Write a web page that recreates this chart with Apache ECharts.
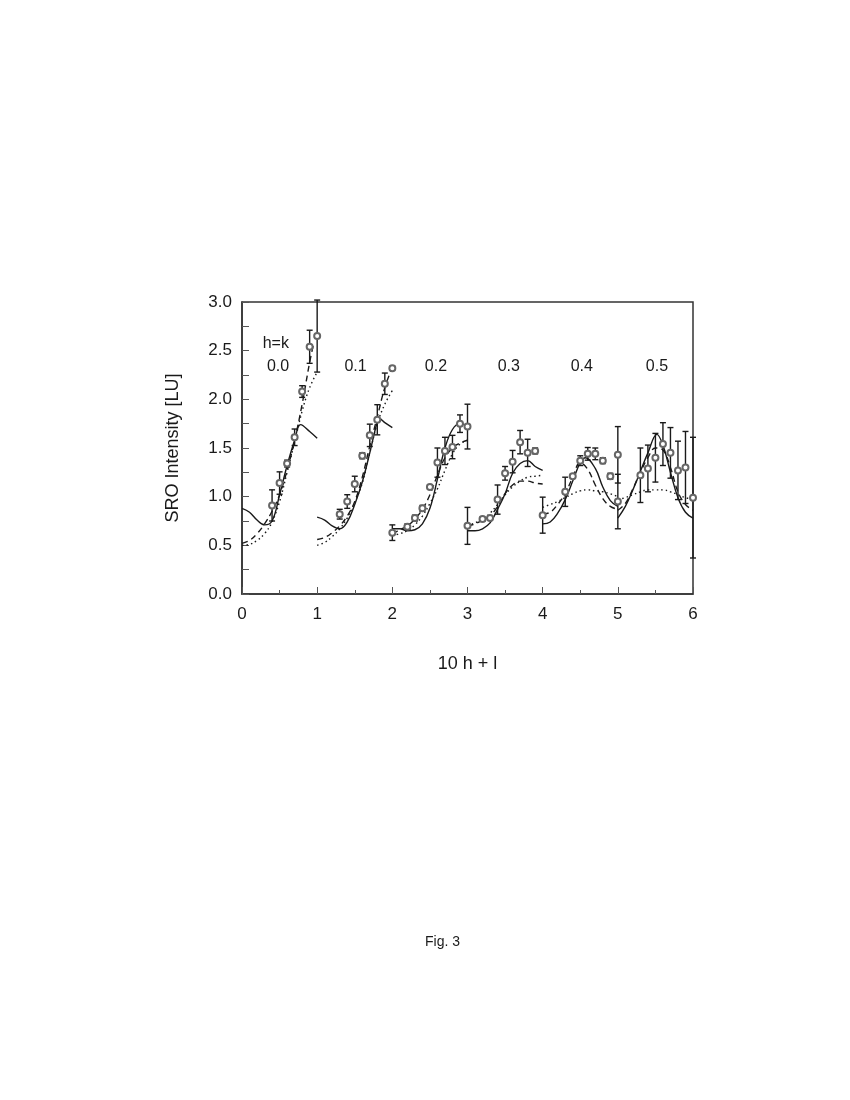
<!DOCTYPE html>
<html>
<head>
<meta charset="utf-8">
<title>Fig. 3</title>
<script src="https://cdn.jsdelivr.net/npm/echarts@6/dist/echarts.min.js"></script>
<style>
  html, body { margin: 0; padding: 0; background: #fff; }
  #chart { width: 850px; height: 1100px; }
</style>
</head>
<body>
<div id="chart"></div>
<script>
// measured points (x = 10 h + l), with error bar half-widths
var obsX = [0.4, 0.5, 0.6, 0.7, 0.8, 0.9, 1.0,
  1.3, 1.4, 1.5, 1.6, 1.7, 1.8, 1.9, 2.0,
  2.0, 2.2, 2.3, 2.4, 2.5, 2.6, 2.7, 2.8, 2.9, 3.0,
  3.0, 3.2, 3.3, 3.4, 3.5, 3.6, 3.7, 3.8, 3.9,
  4.0, 4.3, 4.4, 4.5, 4.6, 4.7, 4.8, 4.9, 5.0,
  5.0, 5.3, 5.4, 5.5, 5.6, 5.7, 5.8, 5.9, 6.0];
var obsY = [0.91, 1.14, 1.34, 1.61, 2.08, 2.54, 2.65,
  0.82, 0.95, 1.13, 1.42, 1.63, 1.79, 2.16, 2.32,
  0.63, 0.69, 0.78, 0.88, 1.10, 1.35, 1.47, 1.51, 1.75, 1.72,
  0.70, 0.77, 0.78, 0.97, 1.24, 1.36, 1.56, 1.45, 1.47,
  0.81, 1.05, 1.21, 1.37, 1.44, 1.44, 1.37, 1.21, 1.43,
  0.95, 1.22, 1.29, 1.40, 1.54, 1.45, 1.27, 1.30, 0.99];
var obsErr = [0.16, 0.115, 0.035, 0.085, 0.06, 0.17, 0.37,
  0.05, 0.07, 0.08, 0.03, 0.115, 0.155, 0.11, 0.02,
  0.08, 0.03, 0.03, 0.03, 0.02, 0.15, 0.14, 0.12, 0.09, 0.23,
  0.19, 0.02, 0.02, 0.15, 0.07, 0.115, 0.12, 0.14, 0.03,
  0.185, 0.15, 0.02, 0.05, 0.065, 0.06, 0.03, 0.03, 0.29,
  0.28, 0.28, 0.24, 0.25, 0.22, 0.26, 0.30, 0.37, 0.62];

// model curves, one array per h=k block
var solid0 = [[0, 0.88], [0.1, 0.84], [0.2, 0.76], [0.3, 0.71], [0.4, 0.75], [0.5, 1.02], [0.6, 1.32], [0.7, 1.58], [0.78, 1.74], [0.9, 1.67], [1.0, 1.60]];
var solid1 = [[1.0, 0.79], [1.1, 0.76], [1.2, 0.70], [1.3, 0.67], [1.4, 0.74], [1.5, 0.92], [1.6, 1.15], [1.7, 1.45], [1.8, 1.77], [1.83, 1.80], [1.9, 1.76], [2.0, 1.71]];
var solid2 = [[2.0, 0.67], [2.1, 0.67], [2.2, 0.65], [2.3, 0.66], [2.4, 0.72], [2.5, 0.88], [2.6, 1.18], [2.7, 1.50], [2.8, 1.69], [2.9, 1.75], [3.0, 1.73]];
var solid3 = [[3.0, 0.65], [3.1, 0.65], [3.2, 0.67], [3.3, 0.73], [3.4, 0.87], [3.5, 1.03], [3.6, 1.24], [3.7, 1.34], [3.8, 1.37], [3.9, 1.31], [4.0, 1.27]];
var solid4 = [[4.0, 0.72], [4.1, 0.74], [4.2, 0.83], [4.3, 0.97], [4.4, 1.16], [4.5, 1.35], [4.57, 1.40], [4.7, 1.29], [4.8, 1.10], [4.9, 0.96], [5.0, 0.90]];
var solid5 = [[5.0, 0.78], [5.1, 0.90], [5.2, 1.07], [5.3, 1.26], [5.4, 1.45], [5.52, 1.64], [5.6, 1.53], [5.7, 1.25], [5.8, 0.99], [5.9, 0.84], [6.0, 0.78]];

var dashed0 = [[0, 0.52], [0.1, 0.55], [0.2, 0.62], [0.3, 0.72], [0.4, 0.85], [0.5, 1.02], [0.6, 1.27], [0.7, 1.58], [0.8, 1.95], [0.9, 2.38], [0.95, 2.56]];
var dashed1 = [[1.0, 0.56], [1.1, 0.58], [1.2, 0.63], [1.3, 0.70], [1.4, 0.80], [1.5, 0.95], [1.6, 1.20], [1.7, 1.52], [1.8, 1.82], [1.9, 2.12], [2.0, 2.33]];
var dashed2 = [[2.0, 0.62], [2.1, 0.66], [2.2, 0.70], [2.3, 0.77], [2.4, 0.87], [2.5, 1.02], [2.6, 1.22], [2.7, 1.40], [2.8, 1.50], [2.9, 1.55], [3.0, 1.58]];
var dashed3 = [[3.0, 0.70], [3.1, 0.72], [3.2, 0.76], [3.3, 0.80], [3.4, 0.90], [3.5, 1.03], [3.6, 1.12], [3.7, 1.16], [3.8, 1.16], [3.9, 1.14], [4.0, 1.13]];
var dashed4 = [[4.0, 0.82], [4.1, 0.84], [4.2, 0.92], [4.3, 1.03], [4.4, 1.20], [4.5, 1.35], [4.6, 1.28], [4.7, 1.12], [4.8, 0.98], [4.9, 0.90], [5.0, 0.87]];
var dashed5 = [[5.0, 0.86], [5.1, 0.93], [5.2, 1.08], [5.3, 1.25], [5.4, 1.40], [5.5, 1.50], [5.6, 1.48], [5.7, 1.30], [5.8, 1.05], [5.9, 0.92], [6.0, 0.86]];

var dotted0 = [[0, 0.50], [0.1, 0.51], [0.2, 0.55], [0.3, 0.62], [0.4, 0.74], [0.5, 0.95], [0.6, 1.25], [0.7, 1.56], [0.8, 1.88], [0.9, 2.12], [1.0, 2.28]];
var dotted1 = [[1.0, 0.50], [1.1, 0.53], [1.2, 0.59], [1.3, 0.67], [1.4, 0.78], [1.5, 0.94], [1.6, 1.14], [1.7, 1.45], [1.8, 1.75], [1.9, 1.95], [2.0, 2.09]];
var dotted2 = [[2.0, 0.60], [2.1, 0.62], [2.2, 0.65], [2.3, 0.71], [2.4, 0.80], [2.5, 0.93], [2.6, 1.08], [2.7, 1.27], [2.8, 1.44], [2.9, 1.54], [3.0, 1.58]];
var dotted3 = [[3.0, 0.70], [3.1, 0.73], [3.2, 0.77], [3.3, 0.83], [3.4, 0.92], [3.5, 1.02], [3.6, 1.10], [3.7, 1.16], [3.8, 1.20], [3.9, 1.21], [4.0, 1.22]];
var dotted4 = [[4.0, 0.89], [4.1, 0.92], [4.2, 0.95], [4.3, 0.99], [4.4, 1.03], [4.5, 1.06], [4.6, 1.07], [4.7, 1.06], [4.8, 1.05], [4.9, 1.03], [5.0, 1.00]];
var dotted5 = [[5.0, 0.97], [5.1, 0.99], [5.2, 1.02], [5.3, 1.05], [5.4, 1.07], [5.5, 1.07], [5.6, 1.07], [5.7, 1.05], [5.8, 1.02], [5.9, 0.99], [6.0, 0.97]];

// block labels (h=k values) and where they sit
var blockLabels = ['0.0', '0.1', '0.2', '0.3', '0.4', '0.5'];
var blockLabelX = [0.48, 1.51, 2.58, 3.55, 4.52, 5.52];
var blockLabelY = 2.34;

var xTicks = [0, 1, 2, 3, 4, 5, 6];
var yTicks = ['0.0', '0.5', '1.0', '1.5', '2.0', '2.5', '3.0'];

var FONT = '"Liberation Sans", Arial, Helvetica, sans-serif';
var INK = '#1a1a1a';

var chart = echarts.init(document.getElementById('chart'));

var series = [];
function addCurves(list, type) {
  list.forEach(function (pts) {
    series.push({
      type: 'line',
      data: pts,
      smooth: 0.4,
      showSymbol: false,
      silent: true,
      z: 2,
      lineStyle: { color: INK, width: 1.4, type: type }
    });
  });
}
addCurves([solid0, solid1, solid2, solid3, solid4, solid5], 'solid');
addCurves([dashed0, dashed1, dashed2, dashed3, dashed4, dashed5], [6, 4]);
addCurves([dotted0, dotted1, dotted2, dotted3, dotted4, dotted5], [1.5, 3]);

var obsData = obsX.map(function (x, i) { return [x, obsY[i], obsErr[i]]; });

// error bars
series.push({
  type: 'custom',
  data: obsData,
  z: 3,
  clip: false,
  renderItem: function (params, api) {
    var x = api.value(0), y = api.value(1), e = api.value(2);
    var hi = api.coord([x, y + e]);
    var lo = api.coord([x, y - e]);
    var cap = 3;
    var st = { stroke: INK, lineWidth: 1.4 };
    return {
      type: 'group',
      children: [
        { type: 'line', shape: { x1: hi[0], y1: hi[1], x2: lo[0], y2: lo[1] }, style: st },
        { type: 'line', shape: { x1: hi[0] - cap, y1: hi[1], x2: hi[0] + cap, y2: hi[1] }, style: st },
        { type: 'line', shape: { x1: lo[0] - cap, y1: lo[1], x2: lo[0] + cap, y2: lo[1] }, style: st }
      ]
    };
  }
});

// data markers
series.push({
  type: 'scatter',
  data: obsData,
  symbol: 'emptyCircle',
  symbolSize: 6,
  z: 4,
  itemStyle: { color: '#666', borderColor: '#666', borderWidth: 1, opacity: 1 }
});

// block labels
var labelStyle = { show: true, formatter: '{b}', position: 'inside', fontFamily: FONT, fontSize: 16, color: INK };
series.push({
  type: 'scatter',
  symbolSize: 0,
  silent: true,
  itemStyle: { opacity: 1 },
  data: blockLabels.map(function (t, i) { return { value: [blockLabelX[i], blockLabelY], name: t }; }),
  label: labelStyle
});
series.push({
  type: 'scatter',
  symbolSize: 0,
  silent: true,
  itemStyle: { opacity: 1 },
  data: [{ value: [0.45, 2.57], name: 'h=k' }],
  label: labelStyle
});

chart.setOption({
  backgroundColor: '#fff',
  animation: false,
  grid: {
    left: 242, right: 157, top: 302, bottom: 506,
    show: true, borderColor: '#333', borderWidth: 1.5, backgroundColor: 'transparent'
  },
  xAxis: {
    type: 'value',
    min: 0, max: 6, interval: 1,
    name: '10 h + l',
    nameLocation: 'middle',
    nameGap: 61,
    nameTextStyle: { fontFamily: FONT, fontSize: 18, color: INK },
    axisLine: { show: true, lineStyle: { color: '#333', width: 1.5 } },
    axisTick: { show: true, inside: true, length: 7, lineStyle: { color: '#555' } },
    minorTick: { show: true, splitNumber: 2, length: 4, lineStyle: { color: '#555' } },
    splitLine: { show: false },
    axisLabel: {
      margin: 12, fontFamily: FONT, fontSize: 17, color: INK,
      formatter: function (v) { return xTicks.indexOf(v) >= 0 ? String(v) : ''; }
    }
  },
  yAxis: {
    type: 'value',
    min: 0, max: 3, interval: 0.5,
    name: 'SRO Intensity [LU]',
    nameLocation: 'middle',
    nameGap: 60,
    nameTextStyle: { fontFamily: FONT, fontSize: 18, color: INK },
    axisLine: { show: true, lineStyle: { color: '#333', width: 1.5 } },
    axisTick: { show: true, inside: true, length: 7, lineStyle: { color: '#555' } },
    minorTick: { show: true, splitNumber: 2, length: 7, lineStyle: { color: '#555' } },
    splitLine: { show: false },
    axisLabel: {
      margin: 10, fontFamily: FONT, fontSize: 17, color: INK,
      formatter: function (v) { return yTicks[Math.round(v / 0.5)]; }
    }
  },
  graphic: [{
    type: 'text',
    left: 425, top: 935,
    style: { text: 'Fig. 3', fontFamily: FONT, fontSize: 14, fill: INK }
  }],
  series: series
});
</script>
</body>
</html>
